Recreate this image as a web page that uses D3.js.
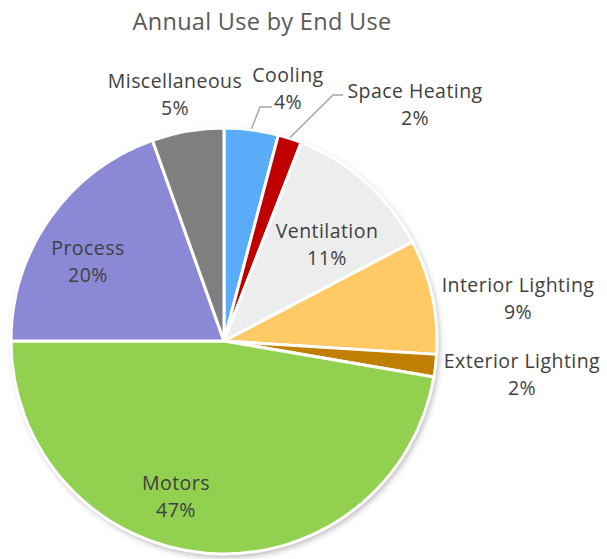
<!DOCTYPE html>
<html>
<head>
<meta charset="utf-8">
<script src="https://cdn.jsdelivr.net/npm/d3@7"></script>
<style>
  html, body { margin: 0; padding: 0; background: #fff; }
  svg { display: block; }
</style>
</head>
<body>
<svg id="chart" width="607" height="559"></svg>
<script>
// ---- data ----
const categories = ["Cooling", "Space Heating", "Ventilation", "Interior Lighting",
                    "Exterior Lighting", "Motors", "Process", "Miscellaneous"];
const values = [4.1, 1.8, 11.4, 8.7, 1.7, 47.3, 19.55, 5.45];
const percentLabels = ["4%", "2%", "11%", "9%", "2%", "47%", "20%", "5%"];
const title = "Annual Use by End Use";

// ---- styles / layout (kept separate from data) ----
const colors = ["#5aacf8", "#c00000", "#eceeed", "#ffc966", "#c07f00",
                "#92d050", "#8b89d5", "#7f7f7f"];
// label anchor (center x, first-line baseline y)
const labelLayout = [
  [288, 82], [415, 98], [327, 238], [518, 292],
  [522, 368], [176, 490], [88, 255], [175, 88]
];
const leaderIdx = { 0: [[260, 107], [272, 107]], 1: [[333, 95], [343, 95]] };

const cx = 224, cy = 341, R = 213;
const svg = d3.select("#chart");

const defs = svg.append("defs");
const f = defs.append("filter").attr("id", "shadow")
  .attr("x", "-10%").attr("y", "-10%").attr("width", "120%").attr("height", "120%");
f.append("feDropShadow").attr("dx", 2).attr("dy", 3).attr("stdDeviation", 3)
  .attr("flood-color", "#000").attr("flood-opacity", 0.3);

svg.append("text")
  .attr("x", 262).attr("y", 30)
  .attr("text-anchor", "middle")
  .attr("font-family", "'Open Sans', sans-serif")
  .attr("font-size", 23.5)
  .attr("letter-spacing", 0.3)
  .attr("fill", "#595959")
  .text(title);

const pie = d3.pie().sort(null).value(d => d)
  .startAngle(0).endAngle(2 * Math.PI);
const arcs = pie(values);
const arc = d3.arc().innerRadius(0).outerRadius(R);

const g = svg.append("g").attr("transform", `translate(${cx},${cy})`);
g.append("circle").attr("r", R).attr("fill", "#fff").attr("filter", "url(#shadow)");
g.selectAll("path.slice").data(arcs).join("path")
  .attr("class", "slice")
  .attr("d", arc)
  .attr("fill", (d, i) => colors[i])
  .attr("stroke", "#fff")
  .attr("stroke-width", 3)
  .attr("stroke-linejoin", "round");

// leader lines
Object.keys(leaderIdx).forEach(k => {
  const a = arcs[+k];
  const mid = (a.startAngle + a.endAngle) / 2;
  const p0 = [cx + (R + 1) * Math.sin(mid), cy - (R + 1) * Math.cos(mid)];
  const pts = [p0].concat(leaderIdx[k]);
  svg.append("path")
    .attr("d", d3.line()(pts))
    .attr("fill", "none")
    .attr("stroke", "#a6a6a6")
    .attr("stroke-width", 1.5);
});

// labels
const lab = svg.append("g")
  .attr("font-family", "'Open Sans', sans-serif")
  .attr("font-size", 19.5)
  .attr("letter-spacing", 0.45)
  .attr("fill", "#404040")
  .attr("text-anchor", "middle");
categories.forEach((c, i) => {
  const [x, y] = labelLayout[i];
  const t = lab.append("text").attr("x", x).attr("y", y);
  t.append("tspan").attr("x", x).attr("y", y).text(c);
  t.append("tspan").attr("x", x).attr("y", y + 26.5).text(percentLabels[i]);
});
</script>
</body>
</html>
